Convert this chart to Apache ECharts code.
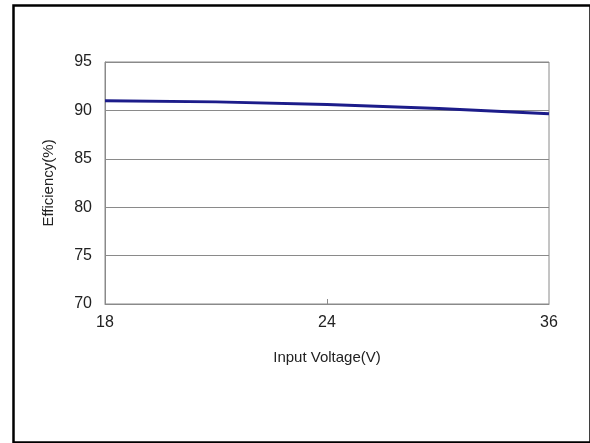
<!DOCTYPE html>
<html><head><meta charset="utf-8">
<script src="https://cdn.jsdelivr.net/npm/echarts@6/dist/echarts.min.js"></script>
<style>html,body{margin:0;padding:0;background:#fff}#c{width:590px;height:443px}</style>
</head><body><div id="c"></div>
<script>
var categories = ['18', '24', '36'];
var efficiency = [91.0, 90.62, 89.65];
var yTicks = [70, 75, 80, 85, 90, 95];

var chart = echarts.init(document.getElementById('c'), null, {renderer: 'canvas'});
var font = 'Liberation Sans, Arial, sans-serif';
chart.setOption({
  animation: false,
  backgroundColor: '#fff',
  graphic: [{
    type: 'rect', left: 11, top: 3,
    shape: {width: 577, height: 437},
    style: {fill: 'none', stroke: '#000', lineWidth: 2.5}
  }],
  grid: {left: 105, right: 41, top: 62, bottom: 139, show: true, borderColor: '#8a8a8a', borderWidth: 1, backgroundColor: 'transparent'},
  xAxis: {
    type: 'category', data: categories, boundaryGap: false,
    name: 'Input Voltage(V)', nameLocation: 'middle', nameGap: 46,
    nameTextStyle: {fontFamily: font, fontSize: 15, color: '#222'},
    axisLine: {lineStyle: {color: '#8a8a8a', width: 1}},
    axisTick: {show: true, inside: true, length: 5, interval: function (i) { return i === 1; }, lineStyle: {color: '#8a8a8a'}},
    axisLabel: {fontFamily: font, fontSize: 16, color: '#222', margin: 11},
    splitLine: {show: false}
  },
  yAxis: {
    type: 'value', min: yTicks[0], max: yTicks[yTicks.length - 1], interval: 5,
    name: 'Efficiency(%)', nameLocation: 'middle', nameGap: 49,
    nameTextStyle: {fontFamily: font, fontSize: 15, color: '#222'},
    axisLine: {show: true, lineStyle: {color: '#8a8a8a', width: 1}},
    axisTick: {show: false},
    axisLabel: {fontFamily: font, fontSize: 16, color: '#222', margin: 13},
    splitLine: {lineStyle: {color: '#8a8a8a', width: 1}}
  },
  series: [{
    type: 'line', data: efficiency, smooth: true, symbol: 'none',
    lineStyle: {color: '#1c1c8a', width: 3}
  }]
});
</script></body></html>
